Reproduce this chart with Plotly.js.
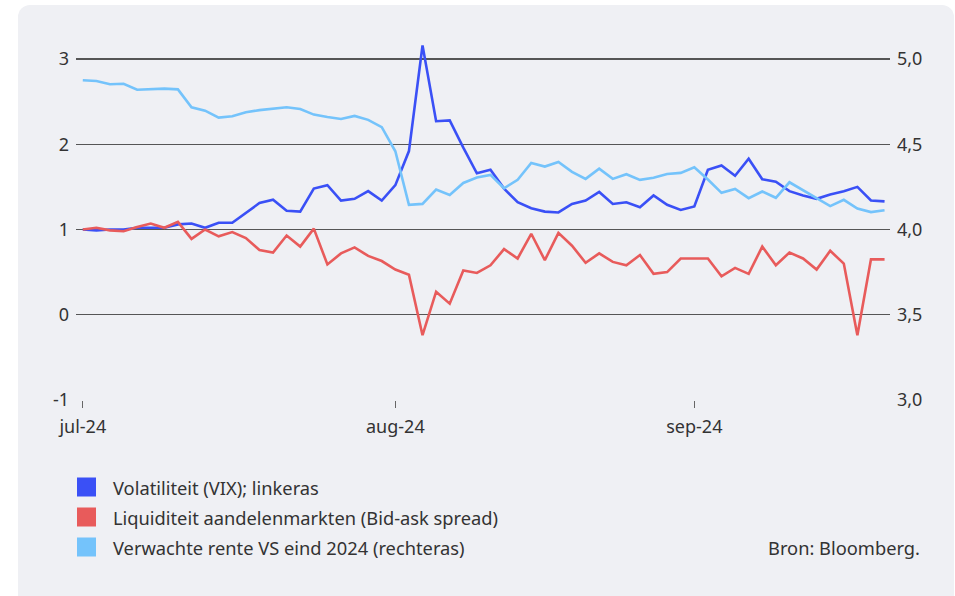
<!DOCTYPE html>
<html>
<head>
<meta charset="utf-8">
<script src="https://cdn.plot.ly/plotly-3.0.1.min.js"></script>
<style>
  html, body { margin:0; padding:0; background:#ffffff; }
  #bg { position:absolute; left:18px; top:5px; width:936px; height:604px; background:#eff0f4; border-radius:12px; }
  #chart { position:absolute; left:0; top:0; width:955px; height:596px; }
</style>
</head>
<body>
<div id="bg"></div>
<div id="chart"></div>
<script>
// Trading days (categories)
const dates = [
  "2024-07-01","2024-07-02","2024-07-03","2024-07-04","2024-07-05",
  "2024-07-08","2024-07-09","2024-07-10","2024-07-11","2024-07-12",
  "2024-07-15","2024-07-16","2024-07-17","2024-07-18","2024-07-19",
  "2024-07-22","2024-07-23","2024-07-24","2024-07-25","2024-07-26",
  "2024-07-29","2024-07-30","2024-07-31",
  "2024-08-01","2024-08-02",
  "2024-08-05","2024-08-06","2024-08-07","2024-08-08","2024-08-09",
  "2024-08-12","2024-08-13","2024-08-14","2024-08-15","2024-08-16",
  "2024-08-19","2024-08-20","2024-08-21","2024-08-22","2024-08-23",
  "2024-08-26","2024-08-27","2024-08-28","2024-08-29","2024-08-30",
  "2024-09-02","2024-09-03","2024-09-04","2024-09-05","2024-09-06",
  "2024-09-09","2024-09-10","2024-09-11","2024-09-12","2024-09-13",
  "2024-09-16","2024-09-17","2024-09-18","2024-09-19","2024-09-20"
];

// Volatiliteit (VIX), left axis
const vix = [
  1.00,0.99,1.00,1.00,1.02, 1.02,1.02,1.06,1.07,1.02,
  1.08,1.08,1.20,1.31,1.35, 1.22,1.21,1.48,1.52,1.34,
  1.36,1.45,1.34,1.52,1.92, 3.16,2.27,2.28,1.96,1.66,
  1.70,1.48,1.32,1.25,1.21, 1.20,1.30,1.34,1.44,1.30,
  1.32,1.26,1.40,1.29,1.23, 1.27,1.70,1.75,1.63,1.83,
  1.59,1.56,1.45,1.40,1.36, 1.41,1.45,1.50,1.34,1.33
];

// Liquiditeit aandelenmarkten (Bid-ask spread), left axis
const liq = [
  1.00,1.02,0.99,0.98,1.03, 1.07,1.02,1.09,0.89,1.00,
  0.92,0.97,0.90,0.76,0.73, 0.93,0.80,1.01,0.59,0.72,
  0.79,0.69,0.63,0.53,0.47, -0.24,0.27,0.13,0.52,0.49,
  0.58,0.77,0.66,0.95,0.64, 0.96,0.81,0.61,0.72,0.62,
  0.58,0.70,0.48,0.50,0.66, 0.66,0.66,0.45,0.55,0.48,
  0.80,0.58,0.73,0.66,0.53, 0.75,0.60,-0.24,0.65,0.65
];

// Verwachte rente VS eind 2024, right axis
const rente = [
  4.875,4.871,4.852,4.855,4.820, 4.822,4.826,4.822,4.717,4.697,
  4.656,4.664,4.688,4.700,4.707, 4.717,4.707,4.674,4.660,4.648,
  4.666,4.643,4.600,4.459,4.145, 4.150,4.234,4.203,4.273,4.305,
  4.320,4.242,4.291,4.390,4.369, 4.396,4.338,4.297,4.357,4.297,
  4.324,4.291,4.303,4.326,4.332, 4.365,4.293,4.215,4.238,4.184,
  4.223,4.186,4.277,4.230,4.182, 4.137,4.174,4.123,4.102,4.113
];

const xTickVals = ["2024-07-01","2024-08-01","2024-09-02"];
const xTickText = ["jul-24","aug-24","sep-24"];
const yLeftTicks = [-1,0,1,2,3];
const yLeftText = ["-1","0","1","2","3"];
const yRightTicks = [3,3.5,4,4.5,5];
const yRightText = ["3,0","3,5","4,0","4,5","5,0"];

const seriesNames = [
  "Volatiliteit (VIX); linkeras",
  "Liquiditeit aandelenmarkten (Bid-ask spread)",
  "Verwachte rente VS eind 2024 (rechteras)"
];
const colors = ["#3a50f6", "#e85b5b", "#74c3fb"];

const FONT = "Noto Sans, Open Sans, sans-serif";
const TXT = "#333333";

// plot area in pixels (top extended above the "3" gridline so the VIX spike is not clipped)
const L = 76, R = 890, T = 38, B = 400;
const Y3 = 59; // pixel of the top gridline
const px = x => (x - L) / (R - L);
const py = y => (B - y) / (B - T);
const extra = (Y3 - T) / ((B - Y3) / 4); // extra units above 3

const traces = [
  { x: dates, y: rente, yaxis: "y2", type: "scatter", mode: "lines", name: seriesNames[2],
    line: { color: colors[2], width: 2.6 }, showlegend: false },
  { x: dates, y: vix, type: "scatter", mode: "lines", name: seriesNames[0],
    line: { color: colors[0], width: 2.6 }, showlegend: false },
  { x: dates, y: liq, type: "scatter", mode: "lines", name: seriesNames[1],
    line: { color: colors[1], width: 2.6 }, showlegend: false }
];

const legendOrder = [0, 1, 2];
const rowY = [487, 517, 547];
const shapes = [];
const annotations = [];
legendOrder.forEach((k, j) => {
  shapes.push({ type: "rect", xref: "paper", yref: "paper",
    x0: px(77), x1: px(96), y0: py(rowY[j] - 9.5), y1: py(rowY[j] + 9.5),
    fillcolor: colors[k], line: { width: 0 } });
  annotations.push({ xref: "paper", yref: "paper", x: px(111), y: py(rowY[j]),
    xanchor: "left", yanchor: "middle", showarrow: false, text: seriesNames[k],
    font: { family: FONT, size: 18.3, color: TXT } });
});
annotations.push({ xref: "paper", yref: "paper", x: px(922), y: py(547),
  xanchor: "right", yanchor: "middle", showarrow: false, text: "Bron: Bloomberg.",
  font: { family: FONT, size: 18.3, color: TXT } });

const layout = {
  width: 955, height: 596,
  margin: { l: L, r: 955 - R, t: T, b: 596 - B, pad: 0 },
  paper_bgcolor: "rgba(0,0,0,0)",
  plot_bgcolor: "rgba(0,0,0,0)",
  separators: ",.",
  font: { family: FONT, size: 18, color: TXT },
  showlegend: false,
  xaxis: {
    type: "category", range: [-0.5, 59.4],
    tickvals: xTickVals, ticktext: xTickText,
    ticks: "outside", ticklen: 7, tickwidth: 1, tickcolor: "#666",
    ticklabelstandoff: 3,
    showgrid: false, zeroline: false, showline: false,
    tickfont: { family: FONT, size: 18, color: TXT }, automargin: false
  },
  yaxis: {
    range: [-1, 3 + extra], tickvals: yLeftTicks, ticktext: yLeftText,
    showgrid: true, gridcolor: "#555555", gridwidth: 1.2,
    zeroline: false, showline: false, ticks: "",
    ticklabelstandoff: 6,
    tickfont: { family: FONT, size: 18, color: TXT }, automargin: false
  },
  yaxis2: {
    overlaying: "y", side: "right",
    range: [3, 5 + extra / 2], tickvals: yRightTicks, ticktext: yRightText,
    showgrid: false, zeroline: false, showline: false, ticks: "",
    ticklabelstandoff: 6,
    tickfont: { family: FONT, size: 18, color: TXT }, automargin: false
  },
  shapes: shapes,
  annotations: annotations
};

Plotly.newPlot("chart", traces, layout, { displayModeBar: false, staticPlot: true });
</script>
</body>
</html>
